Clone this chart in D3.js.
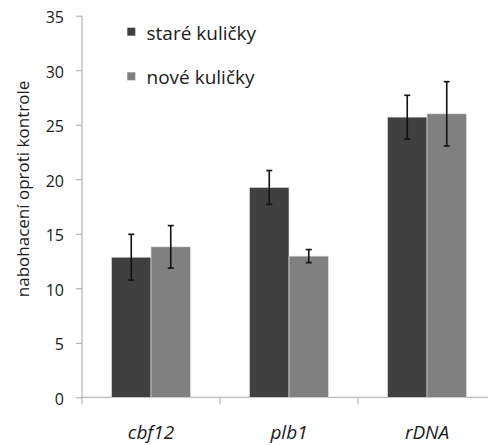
<!DOCTYPE html>
<html><head><meta charset="utf-8">
<script src="https://cdn.jsdelivr.net/npm/d3@7"></script>
<style>body{margin:0;background:#fff}svg{display:block}text{font-family:"Open Sans",sans-serif}</style>
</head><body><svg id="c" width="488" height="445"></svg>
<script>
const categories = ["cbf12","plb1","rDNA"];
const seriesNames = ["staré kuličky","nové kuličky"];
const oldValues = [12.85, 19.25, 25.7];
const oldErrors = [2.1, 1.55, 2.0];
const newValues = [13.8, 12.95, 26.0];
const newErrors = [1.95, 0.6, 2.95];
const yTicks = [0,5,10,15,20,25,30,35];
const colors = ["#404040","#808080"];

const svg = d3.select("#c");
const x0 = 82, x1 = 496, yTop = 15.7, yBot = 397.3;
const x = d3.scaleBand().domain(categories).range([x0, x1]);
const y = d3.scaleLinear().domain([0,35]).range([yBot, yTop]);
const barW = 39.5;
const axisCol = "#a6a6a6", textCol = "#1a1a1a";

// y axis
const yAxis = svg.append("g").attr("transform", `translate(${x0},0)`)
  .call(d3.axisLeft(y).tickValues(yTicks).tickSize(6).tickPadding(12).tickFormat(d3.format("d")));
yAxis.select(".domain").attr("stroke",axisCol).attr("d", `M0,${yTop}V${yBot+7}`);
yAxis.selectAll(".tick line").attr("stroke",axisCol);
yAxis.selectAll(".tick text").attr("font-size",16).attr("fill",textCol).attr("font-family","'Open Sans',sans-serif").attr("dy","0.45em");

// x axis
const xAxis = svg.append("g").attr("transform", `translate(0,${yBot})`)
  .call(d3.axisBottom(x).tickSize(0).tickPadding(0));
xAxis.select(".domain").attr("stroke",axisCol).attr("d", `M${x0},0H${x1}`);
xAxis.selectAll(".tick text").attr("font-size",19).attr("font-style","italic").attr("fill",textCol)
  .attr("font-family","'Open Sans',sans-serif").attr("dy",null).attr("y",42);
xAxis.selectAll(".sep").data(categories.slice(1)).enter().append("line")
  .attr("x1", d=>x(d)).attr("x2", d=>x(d)).attr("y1",0).attr("y2",7).attr("stroke",axisCol);

const data = [];
categories.forEach((c,i)=>{
  data.push({c, s:0, v:oldValues[i], e:oldErrors[i]});
  data.push({c, s:1, v:newValues[i], e:newErrors[i]});
});
const bx = d => x(d.c) + x.bandwidth()/2 + (d.s===0 ? -barW : 0);

svg.append("g").selectAll("rect").data(data).enter().append("rect")
  .attr("x", bx).attr("width", barW)
  .attr("y", d=>y(d.v)).attr("height", d=>y(0)-y(d.v))
  .attr("fill", d=>colors[d.s]).attr("stroke","#e6e6e6").attr("stroke-width",0.6);

const eg = svg.append("g").attr("stroke","#111").attr("stroke-width",1.6);
data.forEach(d=>{
  const cx = bx(d) + barW/2;
  eg.append("line").attr("x1",cx).attr("x2",cx).attr("y1",y(d.v+d.e)).attr("y2",y(d.v-d.e));
  eg.append("line").attr("x1",cx-3).attr("x2",cx+3).attr("y1",y(d.v+d.e)).attr("y2",y(d.v+d.e));
  eg.append("line").attr("x1",cx-3).attr("x2",cx+3).attr("y1",y(d.v-d.e)).attr("y2",y(d.v-d.e));
});

// legend
const lg = svg.append("g");
seriesNames.forEach((n,i)=>{
  const ly = 27.7 + i*44.6;
  lg.append("rect").attr("x",127.3).attr("y",ly).attr("width",8).attr("height",8).attr("fill",colors[i]);
  lg.append("text").attr("x",146.5).attr("y",ly+12).attr("font-size",19).attr("fill",textCol).text(n);
});

// y label
svg.append("text").attr("transform","translate(29,189) rotate(-90)").attr("text-anchor","middle")
  .attr("font-size",17).attr("fill",textCol).text("nabohacení oproti kontrole");
</script></body></html>
